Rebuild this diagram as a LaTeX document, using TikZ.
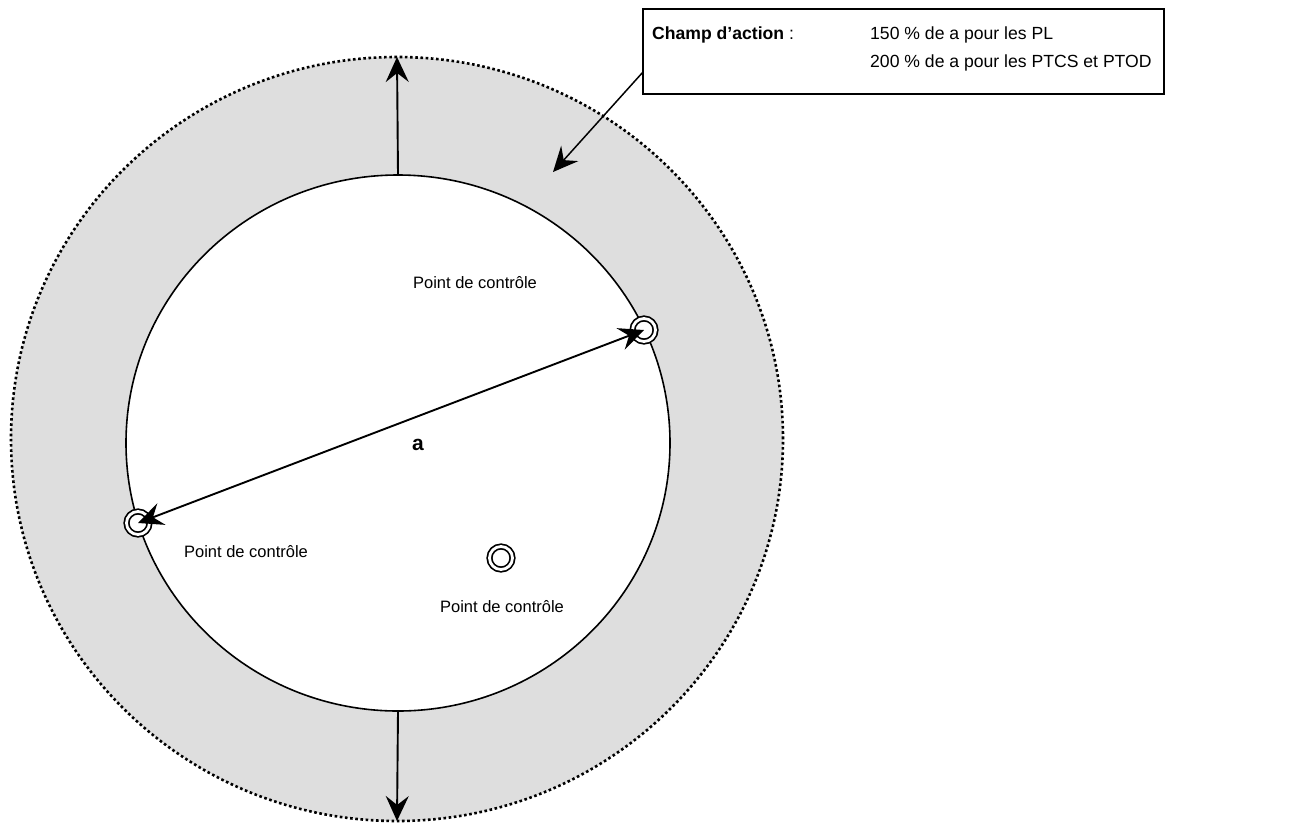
\documentclass[tikz,border=0pt]{standalone}
\usepackage{fontspec}
\setmainfont[Ligatures=NoCommon]{Liberation Sans}
\usetikzlibrary{arrows.meta,shapes.geometric}
\begin{document}
\begin{tikzpicture}[x=1pt,y=-1pt,
  lbl/.style={font=\fontsize{16.5}{19}\selectfont, inner sep=0pt},
  boxtxt/.style={font=\fontsize{17.6}{21}\selectfont, inner sep=0pt, anchor=west},
  cp/.style={circle, draw=black, line width=1.7pt, double=white, double distance=2.8pt, fill=white, minimum size=23pt, inner sep=0pt, outer sep=0pt},
  arr/.style={line width=1.9pt, -{Stealth[length=25pt,width=23pt,inset=9pt]}},
  darr/.style={line width=1.9pt, {Stealth[length=25pt,width=23pt,inset=9pt]}-{Stealth[length=25pt,width=23pt,inset=9pt]}},
  zone/.style={ellipse, inner sep=0pt, outer sep=0pt}]
\useasboundingbox (0,0) rectangle (1312,823);
% outer action field
\node[zone, fill=black!13, draw=black, line width=2.6pt, dash pattern=on 2.6pt off 2.6pt, minimum width=772pt, minimum height=764pt] (outer) at (397,439) {};
% inner circle
\node[zone, fill=white, draw=black, line width=1.6pt, minimum width=544pt, minimum height=536pt] (inner) at (398,443) {};
% vertical arrows
\draw[arr] (inner.north) -- (outer.north);
\draw[arr] (inner.south) -- (outer.south);
% control points
\node[cp] (p1) at (644,330) {};
\node[cp] (p2) at (138,523) {};
\node[cp] (p3) at (501,558) {};
\draw[darr] (p2.center) -- (p1.center);
% labels
\node[lbl] (l1) at (475,283) {Point de contrôle};
\node[lbl] (l2) at (246,552) {Point de contrôle};
\node[lbl] (l3) at (502,607) {Point de contrôle};
\node[font=\fontsize{21}{24}\selectfont\bfseries, inner sep=0pt] (a) at (418,445) {a};
% callout box
\node[draw=black, line width=1.5pt, fill=white, minimum width=521pt, minimum height=85pt, inner sep=0pt] (box) at (903.5,51.5) {};
\node[boxtxt] (t0) at (652,35) {\textbf{Champ d{\char"27}action} :};
\node[boxtxt] (t1) at (870,35) {150 \% de a pour les PL};
\node[boxtxt] (t2) at (870,63) {200 \% de a pour les PTCS et PTOD};
\coordinate (cs) at (643,72);
\coordinate (ct) at (553,172);
\draw[line width=1.5pt, -{Stealth[length=25pt,width=23pt,inset=9pt]}] (cs) -- (ct);
\end{tikzpicture}
\end{document}
